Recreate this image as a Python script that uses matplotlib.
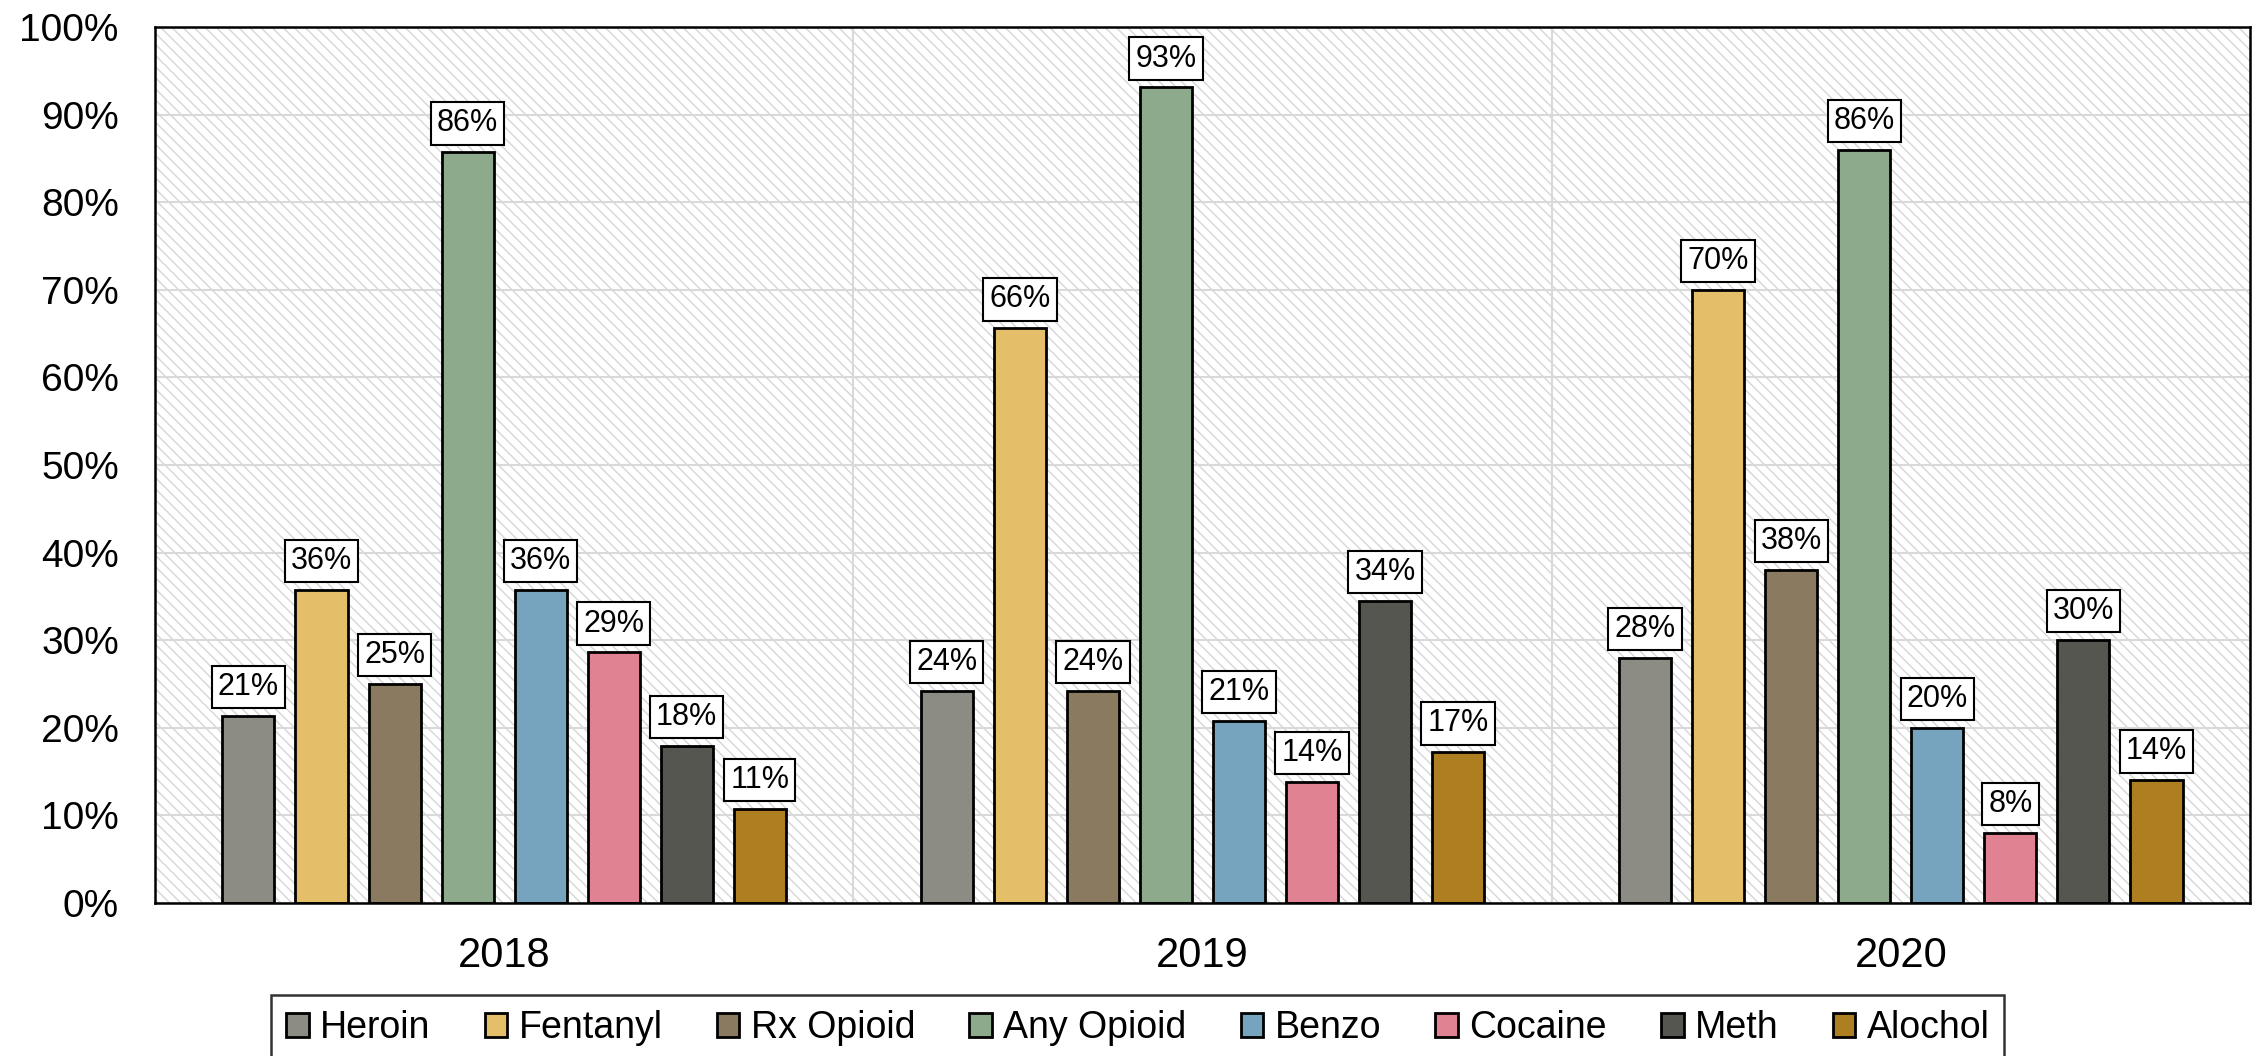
import numpy as np
import matplotlib.pyplot as plt
from matplotlib import font_manager
from matplotlib.patches import Rectangle

# data (percent)
years = ["2018", "2019", "2020"]
drugs = ["Heroin", "Fentanyl", "Rx Opioid", "Any Opioid", "Benzo", "Cocaine", "Meth", "Alochol"]
heroin = [21.4, 24.2, 28.0]
fentanyl = [35.7, 65.6, 70.0]
rx_opioid = [25.0, 24.2, 38.0]
any_opioid = [85.7, 93.1, 86.0]
benzo = [35.7, 20.8, 20.0]
cocaine = [28.6, 13.8, 8.0]
meth = [17.9, 34.5, 30.0]
alcohol = [10.7, 17.2, 14.0]

colors = ["#8c8c85", "#e5be6a", "#8a7b60", "#8dab8c", "#76a3bd", "#e08292", "#54564f", "#ad7f20"]

series = [heroin, fentanyl, rx_opioid, any_opioid, benzo, cocaine, meth, alcohol]

names = {f.name for f in font_manager.fontManager.ttflist}
main_font = "Liberation Sans"
narrow_font = "Liberation Sans Narrow" if "Liberation Sans Narrow" in names else "Liberation Sans"
plt.rcParams["font.family"] = [main_font, "DejaVu Sans"]
plt.rcParams["hatch.color"] = "#d6d6d6"
plt.rcParams["hatch.linewidth"] = 1.0

fig = plt.figure(figsize=(22.62, 10.56), dpi=100)
ax = fig.add_axes([0.0685, 0.1449, 0.9262, 0.8295])

# hatched plot background
bg = Rectangle((0, 0), 1, 1, transform=ax.transAxes, facecolor="white",
               edgecolor="#d6d6d6", hatch="\\\\\\", linewidth=0, zorder=0)
ax.add_patch(bg)

x = np.arange(len(years))
step = 0.1046
width = 0.0745
for i, (name, vals, c) in enumerate(zip(drugs, series, colors)):
    pos = x + (i - 3.5) * step
    bars = ax.bar(pos, vals, width, color=c, edgecolor="black", linewidth=2,
                  label=name, zorder=3)
    for b, v in zip(bars, vals):
        ax.annotate(f"{v:.0f}%", (b.get_x() + b.get_width() / 2, v),
                    xytext=(0, 10), textcoords="offset points",
                    ha="center", va="bottom", fontsize=22, zorder=5,
                    bbox=dict(boxstyle="square,pad=0.2", fc="white", ec="black", lw=1.5))

ax.set_xlim(-0.5, 2.5)
ax.set_ylim(0, 100)
ax.set_yticks(np.arange(0, 101, 10))
ax.set_yticklabels([f"{t}%" for t in range(0, 101, 10)], fontsize=28)
ax.set_xticks(x)
ax.set_xticklabels(years, fontsize=30)
ax.tick_params(axis="y", length=0, pad=26)
ax.tick_params(axis="x", length=0, pad=24)

ax.set_xticks([0.5, 1.5], minor=True)
ax.grid(axis="y", color="#d9d9d9", linewidth=1.5, zorder=1)
ax.grid(axis="x", which="minor", color="#d9d9d9", linewidth=1.5, zorder=1)
ax.tick_params(axis="x", which="minor", length=0)
ax.set_axisbelow(True)

for s in ax.spines.values():
    s.set_linewidth(1.8)
    s.set_color("black")
    s.set_zorder(6)

leg = fig.legend(loc="upper center", bbox_to_anchor=(0.503, 0.0578), ncol=8,
                 frameon=True, fancybox=False, edgecolor="black", borderaxespad=0,
                 prop={"family": narrow_font, "size": 27},
                 handlelength=0.6, handleheight=0.6, handletextpad=0.3,
                 columnspacing=1.45, borderpad=0.4)
leg.get_frame().set_linewidth(1.8)

fig.savefig("out.png", dpi=100)
